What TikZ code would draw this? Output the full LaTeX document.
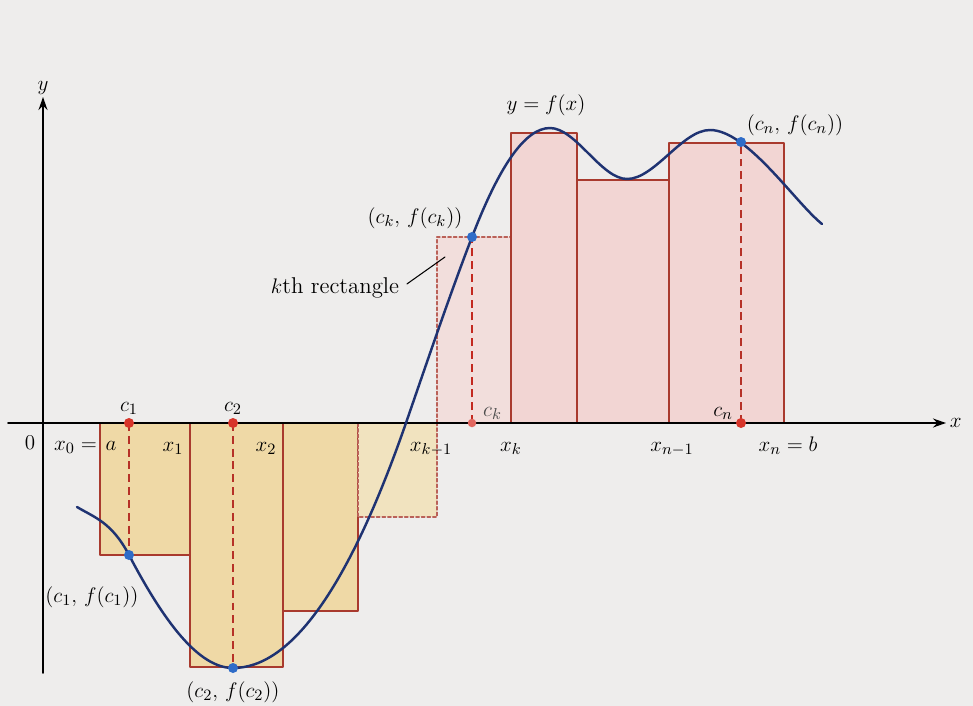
\documentclass[tikz,border=0pt]{standalone}
\usepackage{amsmath}
\usepackage{tikz}
\usetikzlibrary{arrows.meta,positioning}
\definecolor{paper}{HTML}{EEEDEC}
\definecolor{tan}{HTML}{EFD9A6}
\definecolor{lighttan}{HTML}{F1E3BF}
\definecolor{rose}{HTML}{F2D5D3}
\definecolor{lightrose}{HTML}{F2DEDC}
\definecolor{brick}{HTML}{A93A2E}
\definecolor{navy}{HTML}{1F3372}
\definecolor{dotred}{HTML}{D7352A}
\definecolor{dotblue}{HTML}{2F6CC8}
\tikzset{
    every picture/.style={line cap=round,line join=round},
    negrect/.style={fill=tan,draw=brick,line width=0.7pt},
    posrect/.style={fill=rose,draw=brick,line width=0.7pt},
    negfaded/.style={fill=lighttan,draw=brick!80,line width=0.6pt,dash pattern=on 2pt off 1.2pt},
    posfaded/.style={fill=lightrose,draw=brick!80,line width=0.6pt,dash pattern=on 2pt off 1.2pt},
    axisline/.style={-{Stealth[length=2.6mm,width=1.8mm]},line width=0.9pt,draw=black},
    graphline/.style={draw=navy,line width=1.4pt},
    dropline/.style={draw=brick!85!red,line width=1.4pt,line cap=butt,
      dash pattern=on 4.5pt off 2.8pt},
    tickpt/.style={circle,fill=dotred,inner sep=0pt,minimum size=2mm},
    curvept/.style={circle,fill=dotblue,inner sep=0pt,minimum size=2mm},
    lbl/.style={font=\fontsize{13}{15}\selectfont,inner sep=1pt},
    leader/.style={draw=black,line width=0.6pt}
}
\begin{document}
\begin{tikzpicture}[x=0.02cm,y=-0.02cm]
  \fill[paper] (0,0) rectangle (973,706);
  \useasboundingbox (0,0) rectangle (973,706);
  % rectangles of the sum
  \foreach \l/\r/\h/\s in {100/190/555/negrect,190/283/667/negrect,283/358/611/negrect,
      358/437/517/negfaded,437/511/237/posfaded,511/577/133/posrect,
      577/669/180/posrect,669/784/143/posrect}
    \draw[\s] (\l,423) rectangle (\r,\h);
  % axes
  \coordinate (xstart) at (8,423);
  \coordinate (xend) at (946,423);
  \coordinate (ystart) at (43,673);
  \coordinate (yend) at (43,97);
  \draw[axisline] (xstart) -- (xend);
  \draw[axisline] (ystart) -- (yend);
  \node[lbl,right=1pt of xend] (xlab) {$x$};
  \node[lbl,above=0pt of yend] (ylab) {$y$};
  % the graph
  \draw[graphline] (77,507) .. controls (94.3,517.4) and (111.7,522.1) .. (129,555)
    .. controls (163.7,621) and (198.3,668) .. (233,668)
    .. controls (291,668) and (349,588) .. (407,420)
    .. controls (428.7,357.1) and (450.3,293.4) .. (472,237)
    .. controls (498,169.4) and (524,128) .. (550,128)
    .. controls (575.7,128) and (601.3,179) .. (627,179)
    .. controls (654.7,179) and (682.3,130) .. (710,130)
    .. controls (747.3,130) and (795,202.4) .. (822,224);
  % sample points
  \foreach \n/\cx/\cy in {c1/129/555,c2/233/668,ck/472/237,cn/741/142} {
    \coordinate (base\n) at (\cx,423);
    \coordinate (top\n) at (\cx,\cy);
  }
  \foreach \n in {c1,c2,cn}
    \draw[dropline] (base\n) -- (top\n);
  \draw[dropline,line width=1pt,draw=brick!70!red] (baseck) -- (topck);
  \foreach \n in {c1,c2,cn} {
    \node[tickpt] (dot\n) at (base\n) {};
    \node[curvept] (pt\n) at (top\n) {};
  }
  \node[tickpt,fill=dotred!75,minimum size=1.7mm] (dotck) at (baseck) {};
  \node[curvept] (ptck) at (topck) {};
  % labels on the axis
  \node[lbl] (zero) at (30,443) {$0$};
  \node[lbl,anchor=base east] (xzero) at (99,450) {$x_0 =$};
  \node[lbl,anchor=base] (lab-a) at (111,450) {$a$};
  \foreach \t/\px in {x_1/173,x_2/266,x_{k-1}/431,x_k/511,x_{n-1}/672}
    \node[lbl,anchor=base] at (\px,451) {$\t$};
  \node[lbl,anchor=base] (xnb) at (788,451) {$x_n = b$};
  \node[lbl,anchor=base] (lc1) at (129,411) {$c_1$};
  \node[lbl,anchor=base] (lc2) at (233,411) {$c_2$};
  \node[lbl,anchor=base west,text=black!70] (lck) at (481,416) {$c_k$};
  \node[lbl,anchor=base east] (lcn) at (735,416) {$c_n$};
  % labels of the graph
  \node[lbl] (fx) at (546,105) {$y = f(x)$};
  \node[lbl] (lpn) at (795,125) {$(c_n,\, f(c_n))$};
  \node[lbl] (lpk) at (415,218) {$(c_k,\, f(c_k))$};
  \node[lbl] (lp1) at (92,597) {$(c_1,\, f(c_1))$};
  \node[lbl] (lp2) at (233,692) {$(c_2,\, f(c_2))$};
  \node[lbl] (krect) at (335,288) {$k$th rectangle};
  \coordinate (kpt) at (445,257);
  \draw[leader,shorten <=4pt] (krect.east) -- (kpt);
\end{tikzpicture}
\end{document}
